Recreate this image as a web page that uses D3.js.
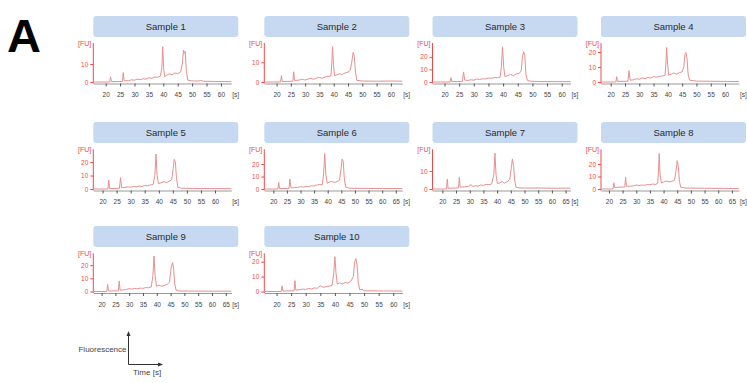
<!DOCTYPE html>
<html><head><meta charset="utf-8">
<script src="https://cdn.jsdelivr.net/npm/d3@7"></script>
<style>body{margin:0;background:#fff}svg{display:block}</style>
</head><body>
<svg id="c" width="747" height="383"></svg>
<script>
// ---- data ----
const sampleNames = ["Sample 1","Sample 2","Sample 3","Sample 4","Sample 5","Sample 6","Sample 7","Sample 8","Sample 9","Sample 10"];
// time axis range [s] per panel
const xMinS = [15.7, 15.7, 15.9, 16.6, 16.7, 16.7, 16.4, 17.1, 17.0, 15.8];
const xMaxS = [63.6, 64.0, 63.0, 64.9, 65.8, 67.4, 66.8, 67.6, 67.0, 63.1];
// fluorescence axis top [FU] per panel
const yMaxFU = [21.7, 19.8, 31, 26, 29.5, 31.8, 22, 31.8, 29, 25.6];
const yTicks = [[0,10],[0,10],[0,10,20],[0,10,20],[0,10,20],[0,10,20],[0,10],[0,10,20],[0,10,20],[0,10,20]];
const xTicksShort = [20,25,30,35,40,45,50,55,60];
const xTicksLong = [20,25,30,35,40,45,50,55,60,65];
const xTickSet = ["short","short","short","short","short","long","long","long","long","short"];

const s1 = [[15.7,0],[21.4,0],[21.7,2.9],[22.0,0.2],[25.8,0.3],[26.1,5.2],[26.4,0.6],[28,0.8],[29,1.2],[30,1.0],[31,1.6],[32,1.3],[33,1.8],[34,1.6],[35,2.4],[36,2.0],[37,2.8],[38,2.6],[39,3.2],[39.5,8],[39.8,19.6],[40.1,8],[40.5,3.0],[41.2,3.8],[42,4.6],[43,4.0],[44,5.0],[45,4.6],[46,5.6],[46.6,10],[47.0,17.8],[47.3,16],[47.6,17],[48.0,6],[48.5,1.0],[50,0.6],[52,0.5],[53,0.8],[54,0.4],[58,0.3],[63.6,0.2]];
const s2 = [[15.7,0],[21.4,0],[21.7,3.2],[22.0,0.2],[25.7,0.4],[26.0,5.2],[26.3,0.8],[27.5,0.9],[29,1.3],[30,1.0],[31,1.5],[32,1.8],[33,1.4],[34,2.0],[35,2.3],[36,1.9],[37,2.6],[38,2.8],[39,3.0],[39.3,9],[39.6,18],[39.9,9],[40.3,3.2],[41,3.6],[42,4.2],[43,3.8],[44,4.6],[45,5.0],[45.8,6.0],[46.3,10],[46.8,15],[47.2,13],[47.6,5],[48.1,0.8],[50,0.5],[55,0.4],[60,0.5],[64,0.4]];
const s3 = [[15.9,0],[21.9,0],[22.2,3.5],[22.5,0.3],[26.1,0.5],[26.5,8],[26.9,1.5],[28,1.2],[29,1.8],[30,1.4],[31,2.4],[32,2.0],[33,2.6],[34,2.4],[35,3.2],[36,3.0],[37,3.6],[38,3.4],[39,4.0],[39.4,12],[39.8,28],[40.2,12],[40.6,4.4],[41.5,5.0],[42.5,6.0],[43.5,5.2],[44.5,6.4],[45.5,6.8],[46.2,9],[46.6,20],[47.0,24],[47.4,21],[47.8,6],[48.3,1.2],[49.5,0.6],[52,0.4],[58,0.3],[63,0.3]];
const s4 = [[16.6,0],[21.8,0],[22.1,3.6],[22.4,0.4],[26.0,0.5],[26.4,7.6],[26.8,1.2],[28,1.5],[29,2.2],[30,1.8],[31,2.8],[32,2.2],[33,3.0],[34,2.6],[35,3.6],[36,3.2],[37,3.8],[38,4.0],[39,4.4],[39.3,12],[39.6,23],[39.9,12],[40.3,4.6],[41.2,5.2],[42,6.0],[43,5.2],[44,6.2],[45,6.8],[45.6,10],[46.0,19],[46.3,19.7],[46.7,16],[47.1,5],[47.6,1.2],[50,0.6],[55,0.5],[60,0.4],[64.9,0.3]];
const s5 = [[16.7,0],[21.9,0],[22.2,6.7],[22.5,0.3],[26.0,0.5],[26.4,8.4],[26.8,1.0],[28,1.2],[29,1.6],[30,1.3],[31,2.0],[32,1.6],[33,2.2],[34,1.9],[35,2.6],[36,2.4],[37,3.0],[38,3.4],[38.6,10],[39.0,26],[39.4,10],[39.9,4.0],[40.8,4.6],[41.8,5.4],[42.8,4.8],[43.8,5.8],[44.6,7],[45.1,15],[45.5,22],[45.9,20],[46.3,8],[46.8,1.2],[48,0.6],[52,0.4],[58,0.3],[65.8,0.3]];
const s6 = [[16.7,0],[21.7,0],[22.0,5.3],[22.3,0.3],[25.8,0.5],[26.1,8],[26.5,1.0],[27.5,1.0],[29,1.4],[30,1.8],[31,1.5],[32,2.2],[33,2.0],[34,2.6],[35,2.4],[36,3.2],[37,3.6],[38,3.4],[38.5,12],[38.9,28.5],[39.3,12],[39.8,4.6],[40.6,5.6],[41.5,6.0],[42.5,5.2],[43.5,6.0],[44.3,7.0],[44.9,16],[45.3,24],[45.7,22],[46.1,8],[46.6,1.5],[48,0.6],[53,0.5],[60,0.4],[67.4,0.4]];
const s7 = [[16.4,0],[21.5,0],[21.8,5.5],[22.1,0.4],[25.9,0.6],[26.2,6.5],[26.5,1.0],[28,1.2],[29.5,1.4],[30.4,2.4],[31.2,1.4],[32,1.8],[33,1.6],[34,2.2],[35,2.0],[36,2.6],[37,2.4],[38,2.8],[38.8,8],[39.2,19.8],[39.6,8],[40.1,3.0],[41,3.4],[41.8,4.2],[42.6,3.2],[43.6,4.0],[44.6,5.2],[45.2,12],[45.6,16.7],[46.0,13],[46.4,5],[46.9,1.0],[48,0.6],[50,0.5],[55,0.6],[60,0.4],[66.8,0.5]];
const s8 = [[17.1,0],[21.5,0],[21.8,5],[22.1,1.2],[23,1.4],[25.8,1.6],[26.1,9.4],[26.4,2.2],[28,2.2],[29,2.6],[30,3.2],[31,2.8],[32,3.2],[33,3.0],[34,3.6],[35,3.4],[36,4.0],[37,3.6],[37.8,4.4],[38.1,12],[38.4,28.5],[38.7,12],[39.2,4.8],[40,5.6],[41,6.4],[42,5.6],[43,6.2],[44,7.0],[44.6,15],[45.0,22.7],[45.4,18],[45.8,6],[46.3,1.4],[48,0.8],[55,0.6],[62,0.5],[67.6,0.3]];
const s9 = [[17,0],[21.9,0],[22.2,5.4],[22.5,0.4],[26.1,0.5],[26.4,8],[26.7,1.0],[28,1.2],[29,1.6],[30,2.2],[31,1.8],[32,2.4],[33,2.0],[34,2.6],[35,2.4],[36,3.0],[37,2.8],[38,3.4],[38.6,12],[39.0,27],[39.4,12],[39.9,4.0],[40.8,4.8],[41.8,4.0],[42.8,4.6],[43.8,5.4],[44.6,7],[45.2,18],[45.7,22],[46.1,17],[46.5,6],[47,1.0],[48,0.4],[55,0.3],[67,0.2]];
const s10 = [[15.8,0],[21.6,0],[21.9,3.8],[22.2,0.3],[26.0,0.5],[26.3,7.3],[26.6,1.0],[28,1.2],[29,1.6],[30,1.4],[31,2.0],[32,1.7],[33,2.4],[34,2.2],[35,3.8],[36,2.8],[37,3.2],[38,3.6],[39,4.0],[39.6,12],[40.0,23.3],[40.4,12],[40.8,5.0],[41.6,5.8],[42.5,5.0],[43.5,6.0],[44.5,5.6],[45.5,7.0],[46.3,10],[46.8,20],[47.2,22],[47.6,18],[48.0,6],[48.5,1.2],[49.3,1.5],[50,0.5],[55,0.4],[63.1,0.3]];
const traces = [s1,s2,s3,s4,s5,s6,s7,s8,s9,s10];

// ---- layout ----
const svg = d3.select("#c");
const colX = [93.3, 264.3, 432.5, 601];
const rowTitleY = [16, 122, 226];
const rowZeroY = [82, 189, 291.5];
const rowTopY = [43, 149.3, 253.3];
const axisLen = 138, boxW = 145, boxH = 21;
const FONT = "'Liberation Sans', Arial, sans-serif";
const red = "#ee4a4a", traceCol = "#e69090";

svg.append("text").attr("x", 7).attr("y", 52).attr("font-family", FONT)
  .attr("font-weight", "bold").attr("font-size", 47).attr("fill", "#000").text("A");

sampleNames.forEach((name, i) => {
  const col = i % 4, row = Math.floor(i / 4);
  const x0 = colX[col], zy = rowZeroY[row], ty = rowTopY[row];
  const g = svg.append("g");
  // title box
  g.append("rect").attr("x", x0).attr("y", rowTitleY[row]).attr("width", boxW).attr("height", boxH)
    .attr("rx", 3).attr("fill", "#c6d9f1");
  g.append("text").attr("x", x0 + boxW / 2).attr("y", rowTitleY[row] + boxH / 2 + 3.3)
    .attr("text-anchor", "middle").attr("font-family", FONT).attr("font-size", 9.5)
    .attr("fill", "#2a2a2a").text(name);

  const x = d3.scaleLinear().domain([xMinS[i], xMaxS[i]]).range([x0, x0 + axisLen]);
  const y = d3.scaleLinear().domain([0, yMaxFU[i]]).range([zy, ty]);

  // x axis
  const ticks = xTickSet[i] === "long" ? xTicksLong : xTicksShort;
  const xa = g.append("g").attr("transform", `translate(0,${zy + 1.5})`)
    .call(d3.axisBottom(x).tickValues(ticks).tickSize(3).tickSizeOuter(0).tickFormat(d3.format("d")));
  xa.select(".domain").attr("stroke", "#999");
  xa.selectAll(".tick line").attr("stroke", "#555");
  xa.selectAll("text").attr("font-family", FONT).attr("font-size", 6.5).attr("fill", "#444").attr("dy", "1.2em");
  g.append("text").attr("x", x0 + axisLen + 1).attr("y", zy + 15.3).attr("font-family", FONT)
    .attr("font-size", 6.5).attr("fill", "#444").text("[s]");

  // y axis
  const ya = g.append("g").attr("transform", `translate(${x0},0)`)
    .call(d3.axisLeft(y).tickValues(yTicks[i]).tickSize(3).tickSizeOuter(0).tickFormat(d3.format("d")));
  ya.select(".domain").attr("stroke", red).attr("d", `M0,${ty}V${zy + 1.5}`);
  ya.selectAll(".tick line").attr("stroke", red);
  ya.selectAll("text").attr("font-family", FONT).attr("font-size", 6.5).attr("fill", red).attr("x", -5);
  g.append("text").attr("x", x0 - 2).attr("y", ty + 2.5).attr("text-anchor", "end")
    .attr("font-family", FONT).attr("font-size", 7).attr("fill", red).text("[FU]");

  // trace
  const line = d3.line().x(d => x(d[0])).y(d => y(d[1]));
  g.append("path").datum(traces[i]).attr("d", line).attr("fill", "none")
    .attr("stroke", traceCol).attr("stroke-width", 1).attr("stroke-linejoin", "round");
});

// legend axes
const lg = svg.append("g");
lg.append("defs").append("marker").attr("id", "arr").attr("viewBox", "0 0 10 10")
  .attr("refX", 8).attr("refY", 5).attr("markerWidth", 5).attr("markerHeight", 5)
  .attr("orient", "auto").append("path").attr("d", "M0,1L10,5L0,9Z").attr("fill", "#333");
lg.append("path").attr("d", "M128.5,364.5V332").attr("stroke", "#333").attr("stroke-width", 1)
  .attr("fill", "none").attr("marker-end", "url(#arr)");
lg.append("path").attr("d", "M128.5,364.5H162").attr("stroke", "#333").attr("stroke-width", 1)
  .attr("fill", "none").attr("marker-end", "url(#arr)");
lg.append("text").attr("x", 126.5).attr("y", 351.5).attr("text-anchor", "end")
  .attr("font-family", FONT).attr("font-size", 8).attr("fill", "#444").text("Fluorescence");
lg.append("text").attr("x", 133).attr("y", 375).attr("font-family", FONT)
  .attr("font-size", 8).attr("fill", "#444").text("Time [s]");
</script>
</body></html>
